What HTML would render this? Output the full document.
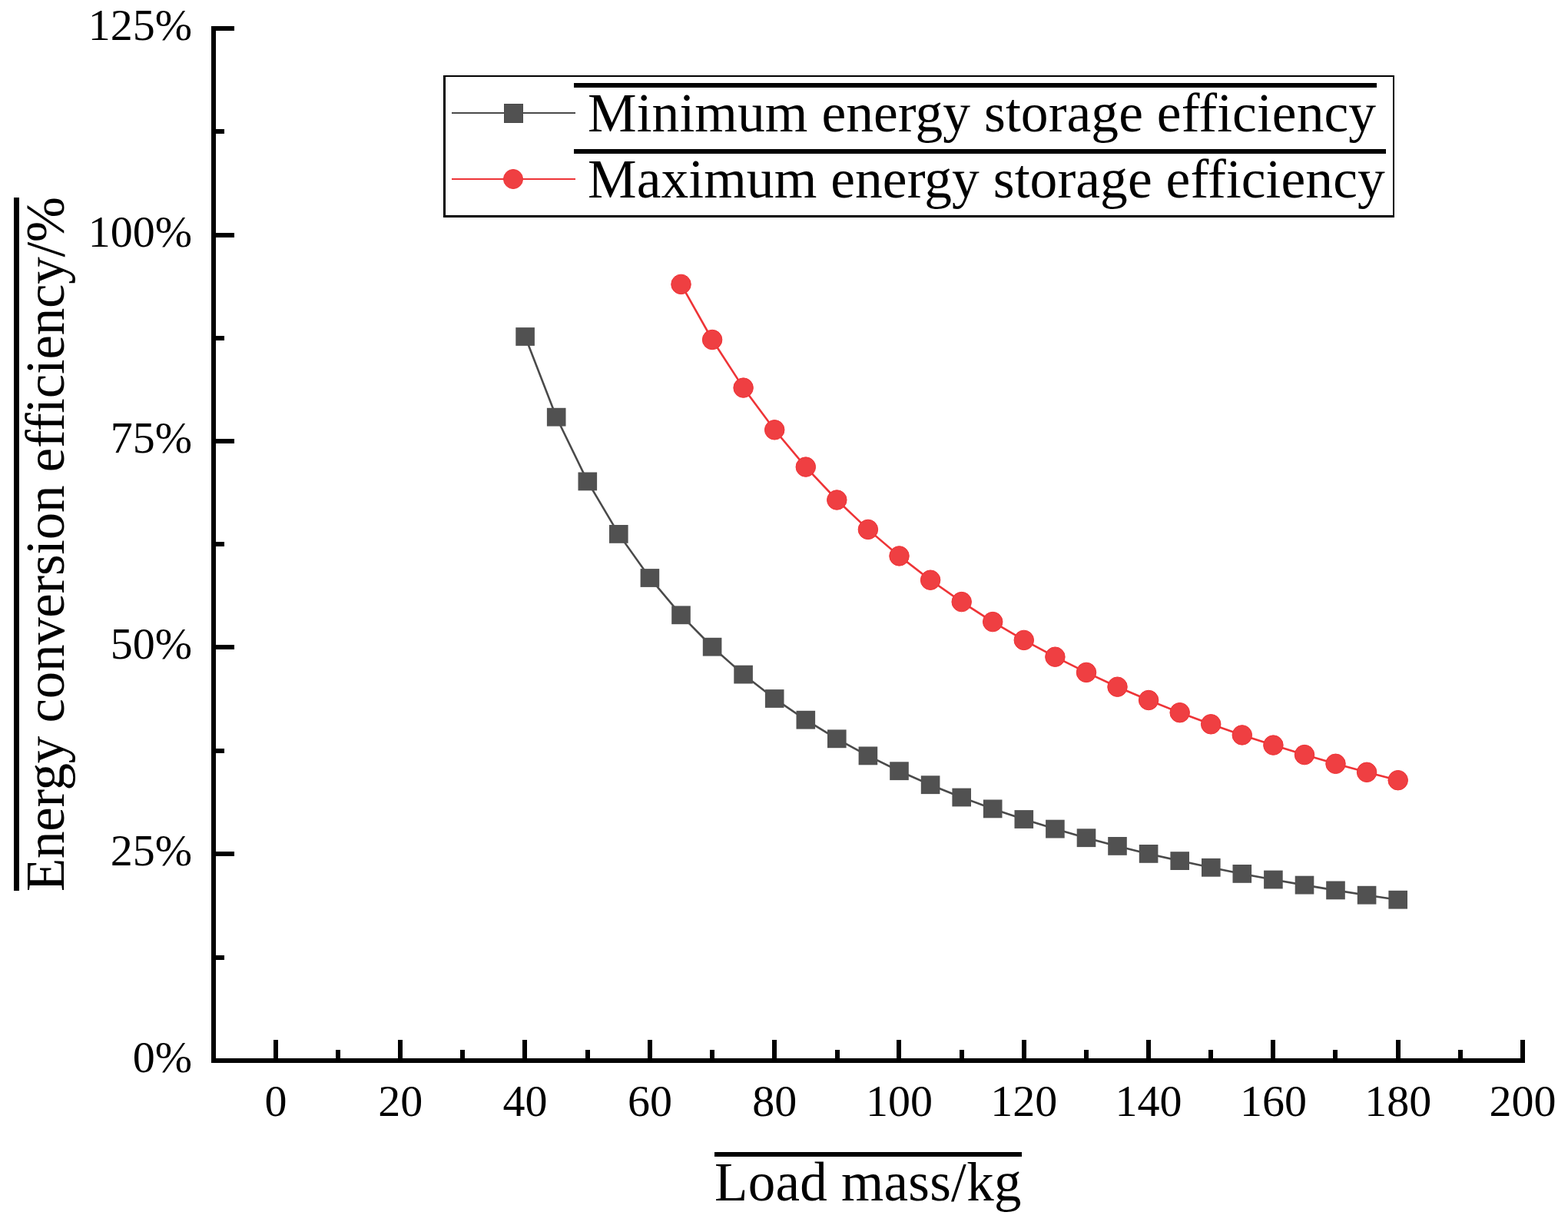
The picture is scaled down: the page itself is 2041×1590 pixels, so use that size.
<!DOCTYPE html><html><head><meta charset="utf-8"><style>html,body{margin:0;padding:0;background:#fff;}svg{display:block}text{font-family:"Liberation Serif","Times New Roman",serif;fill:#000}</style></head><body>
<svg width="2041" height="1590" viewBox="0 0 2041 1590">
<rect width="2041" height="1590" fill="#fff"/>
<rect x="275" y="34" width="6" height="1349" fill="#000"/>
<rect x="275" y="1377" width="1710" height="6" fill="#000"/>
<rect x="281" y="34" width="24" height="6" fill="#000"/>
<rect x="281" y="303" width="24" height="6" fill="#000"/>
<rect x="281" y="571" width="24" height="6" fill="#000"/>
<rect x="281" y="839" width="24" height="6" fill="#000"/>
<rect x="281" y="1108" width="24" height="6" fill="#000"/>
<rect x="281" y="1377" width="24" height="6" fill="#000"/>
<rect x="281" y="168" width="11" height="6" fill="#000"/>
<rect x="281" y="437" width="11" height="6" fill="#000"/>
<rect x="281" y="705" width="11" height="6" fill="#000"/>
<rect x="281" y="974" width="11" height="6" fill="#000"/>
<rect x="281" y="1243" width="11" height="6" fill="#000"/>
<rect x="356" y="1353" width="6" height="24" fill="#000"/>
<rect x="518" y="1353" width="6" height="24" fill="#000"/>
<rect x="680" y="1353" width="6" height="24" fill="#000"/>
<rect x="843" y="1353" width="6" height="24" fill="#000"/>
<rect x="1005" y="1353" width="6" height="24" fill="#000"/>
<rect x="1167" y="1353" width="6" height="24" fill="#000"/>
<rect x="1330" y="1353" width="6" height="24" fill="#000"/>
<rect x="1492" y="1353" width="6" height="24" fill="#000"/>
<rect x="1654" y="1353" width="6" height="24" fill="#000"/>
<rect x="1817" y="1353" width="6" height="24" fill="#000"/>
<rect x="1979" y="1353" width="6" height="24" fill="#000"/>
<rect x="437" y="1366" width="6" height="11" fill="#000"/>
<rect x="599" y="1366" width="6" height="11" fill="#000"/>
<rect x="762" y="1366" width="6" height="11" fill="#000"/>
<rect x="924" y="1366" width="6" height="11" fill="#000"/>
<rect x="1087" y="1366" width="6" height="11" fill="#000"/>
<rect x="1249" y="1366" width="6" height="11" fill="#000"/>
<rect x="1411" y="1366" width="6" height="11" fill="#000"/>
<rect x="1573" y="1366" width="6" height="11" fill="#000"/>
<rect x="1735" y="1366" width="6" height="11" fill="#000"/>
<rect x="1898" y="1366" width="6" height="11" fill="#000"/>
<text x="250" y="52.0" text-anchor="end" font-size="58">125%</text>
<text x="250" y="321.0" text-anchor="end" font-size="58">100%</text>
<text x="250" y="589.0" text-anchor="end" font-size="58">75%</text>
<text x="250" y="857.0" text-anchor="end" font-size="58">50%</text>
<text x="250" y="1126.0" text-anchor="end" font-size="58">25%</text>
<text x="250" y="1395.0" text-anchor="end" font-size="58">0%</text>
<text x="359.0" y="1451.5" text-anchor="middle" font-size="58">0</text>
<text x="521.3" y="1451.5" text-anchor="middle" font-size="58">20</text>
<text x="683.6" y="1451.5" text-anchor="middle" font-size="58">40</text>
<text x="845.9" y="1451.5" text-anchor="middle" font-size="58">60</text>
<text x="1008.2" y="1451.5" text-anchor="middle" font-size="58">80</text>
<text x="1170.5" y="1451.5" text-anchor="middle" font-size="58">100</text>
<text x="1332.8" y="1451.5" text-anchor="middle" font-size="58">120</text>
<text x="1495.1" y="1451.5" text-anchor="middle" font-size="58">140</text>
<text x="1657.4" y="1451.5" text-anchor="middle" font-size="58">160</text>
<text x="1819.7" y="1451.5" text-anchor="middle" font-size="58">180</text>
<text x="1982.0" y="1451.5" text-anchor="middle" font-size="58">200</text>
<rect x="930" y="1499" width="400" height="6" fill="#000"/>
<text x="930" y="1562" font-size="71" textLength="399.4" lengthAdjust="spacing">Load mass/kg</text>
<rect x="18" y="257" width="7" height="902" fill="#000"/>
<text transform="translate(82.7,1160) rotate(-90)" font-size="71" textLength="904" lengthAdjust="spacing">Energy conversion efficiency/%</text>
<polyline points="683.6,438.0 724.2,542.7 764.8,626.4 805.3,694.9 845.9,752.0 886.5,800.3 927.1,841.7 967.6,877.6 1008.2,909.0 1048.8,936.7 1089.3,961.3 1129.9,983.4 1170.5,1003.2 1211.1,1021.2 1251.7,1037.5 1292.2,1052.4 1332.8,1066.0 1373.4,1078.6 1414.0,1090.2 1454.5,1100.9 1495.1,1110.9 1535.7,1120.1 1576.2,1128.8 1616.8,1136.9 1657.4,1144.5 1698.0,1151.6 1738.5,1158.4 1779.1,1164.7 1819.7,1170.7" fill="none" stroke="#4a4a4a" stroke-width="2.6"/>
<polyline points="886.5,369.9 927.1,442.0 967.6,504.6 1008.2,559.3 1048.8,607.6 1089.3,650.5 1129.9,688.9 1170.5,723.4 1211.1,754.7 1251.7,783.1 1292.2,809.1 1332.8,832.9 1373.4,854.7 1414.0,874.9 1454.5,893.7 1495.1,911.0 1535.7,927.2 1576.2,942.3 1616.8,956.4 1657.4,969.6 1698.0,982.1 1738.5,993.8 1779.1,1004.8 1819.7,1015.2" fill="none" stroke="#ee3437" stroke-width="2.6"/>
<rect x="671.3" y="426.1" width="24.6" height="23.8" fill="#515151"/>
<rect x="711.9" y="530.8" width="24.6" height="23.8" fill="#515151"/>
<rect x="752.5" y="614.5" width="24.6" height="23.8" fill="#515151"/>
<rect x="793.0" y="683.0" width="24.6" height="23.8" fill="#515151"/>
<rect x="833.6" y="740.1" width="24.6" height="23.8" fill="#515151"/>
<rect x="874.2" y="788.4" width="24.6" height="23.8" fill="#515151"/>
<rect x="914.8" y="829.8" width="24.6" height="23.8" fill="#515151"/>
<rect x="955.3" y="865.7" width="24.6" height="23.8" fill="#515151"/>
<rect x="995.9" y="897.1" width="24.6" height="23.8" fill="#515151"/>
<rect x="1036.5" y="924.8" width="24.6" height="23.8" fill="#515151"/>
<rect x="1077.0" y="949.4" width="24.6" height="23.8" fill="#515151"/>
<rect x="1117.6" y="971.5" width="24.6" height="23.8" fill="#515151"/>
<rect x="1158.2" y="991.3" width="24.6" height="23.8" fill="#515151"/>
<rect x="1198.8" y="1009.3" width="24.6" height="23.8" fill="#515151"/>
<rect x="1239.4" y="1025.6" width="24.6" height="23.8" fill="#515151"/>
<rect x="1279.9" y="1040.5" width="24.6" height="23.8" fill="#515151"/>
<rect x="1320.5" y="1054.1" width="24.6" height="23.8" fill="#515151"/>
<rect x="1361.1" y="1066.7" width="24.6" height="23.8" fill="#515151"/>
<rect x="1401.7" y="1078.3" width="24.6" height="23.8" fill="#515151"/>
<rect x="1442.2" y="1089.0" width="24.6" height="23.8" fill="#515151"/>
<rect x="1482.8" y="1099.0" width="24.6" height="23.8" fill="#515151"/>
<rect x="1523.4" y="1108.2" width="24.6" height="23.8" fill="#515151"/>
<rect x="1564.0" y="1116.9" width="24.6" height="23.8" fill="#515151"/>
<rect x="1604.5" y="1125.0" width="24.6" height="23.8" fill="#515151"/>
<rect x="1645.1" y="1132.6" width="24.6" height="23.8" fill="#515151"/>
<rect x="1685.7" y="1139.7" width="24.6" height="23.8" fill="#515151"/>
<rect x="1726.2" y="1146.5" width="24.6" height="23.8" fill="#515151"/>
<rect x="1766.8" y="1152.8" width="24.6" height="23.8" fill="#515151"/>
<rect x="1807.4" y="1158.8" width="24.6" height="23.8" fill="#515151"/>
<circle cx="886.5" cy="369.9" r="12.75" fill="#ef3f42" stroke="#ee3134" stroke-width="1"/>
<circle cx="927.1" cy="442.0" r="12.75" fill="#ef3f42" stroke="#ee3134" stroke-width="1"/>
<circle cx="967.6" cy="504.6" r="12.75" fill="#ef3f42" stroke="#ee3134" stroke-width="1"/>
<circle cx="1008.2" cy="559.3" r="12.75" fill="#ef3f42" stroke="#ee3134" stroke-width="1"/>
<circle cx="1048.8" cy="607.6" r="12.75" fill="#ef3f42" stroke="#ee3134" stroke-width="1"/>
<circle cx="1089.3" cy="650.5" r="12.75" fill="#ef3f42" stroke="#ee3134" stroke-width="1"/>
<circle cx="1129.9" cy="688.9" r="12.75" fill="#ef3f42" stroke="#ee3134" stroke-width="1"/>
<circle cx="1170.5" cy="723.4" r="12.75" fill="#ef3f42" stroke="#ee3134" stroke-width="1"/>
<circle cx="1211.1" cy="754.7" r="12.75" fill="#ef3f42" stroke="#ee3134" stroke-width="1"/>
<circle cx="1251.7" cy="783.1" r="12.75" fill="#ef3f42" stroke="#ee3134" stroke-width="1"/>
<circle cx="1292.2" cy="809.1" r="12.75" fill="#ef3f42" stroke="#ee3134" stroke-width="1"/>
<circle cx="1332.8" cy="832.9" r="12.75" fill="#ef3f42" stroke="#ee3134" stroke-width="1"/>
<circle cx="1373.4" cy="854.7" r="12.75" fill="#ef3f42" stroke="#ee3134" stroke-width="1"/>
<circle cx="1414.0" cy="874.9" r="12.75" fill="#ef3f42" stroke="#ee3134" stroke-width="1"/>
<circle cx="1454.5" cy="893.7" r="12.75" fill="#ef3f42" stroke="#ee3134" stroke-width="1"/>
<circle cx="1495.1" cy="911.0" r="12.75" fill="#ef3f42" stroke="#ee3134" stroke-width="1"/>
<circle cx="1535.7" cy="927.2" r="12.75" fill="#ef3f42" stroke="#ee3134" stroke-width="1"/>
<circle cx="1576.2" cy="942.3" r="12.75" fill="#ef3f42" stroke="#ee3134" stroke-width="1"/>
<circle cx="1616.8" cy="956.4" r="12.75" fill="#ef3f42" stroke="#ee3134" stroke-width="1"/>
<circle cx="1657.4" cy="969.6" r="12.75" fill="#ef3f42" stroke="#ee3134" stroke-width="1"/>
<circle cx="1698.0" cy="982.1" r="12.75" fill="#ef3f42" stroke="#ee3134" stroke-width="1"/>
<circle cx="1738.5" cy="993.8" r="12.75" fill="#ef3f42" stroke="#ee3134" stroke-width="1"/>
<circle cx="1779.1" cy="1004.8" r="12.75" fill="#ef3f42" stroke="#ee3134" stroke-width="1"/>
<circle cx="1819.7" cy="1015.2" r="12.75" fill="#ef3f42" stroke="#ee3134" stroke-width="1"/>
<rect x="577" y="98" width="1238" height="2" fill="#000"/>
<rect x="577" y="280" width="1238" height="3" fill="#000"/>
<rect x="577" y="98" width="3" height="185" fill="#000"/>
<rect x="1813" y="98" width="2" height="185" fill="#000"/>
<line x1="588" y1="147" x2="749" y2="147" stroke="#4a4a4a" stroke-width="2"/>
<rect x="656.5" y="135.5" width="24" height="24" fill="#515151" stroke="#4a4a4a" stroke-width="1"/>
<line x1="588" y1="233" x2="749" y2="233" stroke="#ee3437" stroke-width="2"/>
<circle cx="668" cy="233" r="12.5" fill="#ef3f42" stroke="#ee3437" stroke-width="1"/>
<rect x="747" y="108" width="1045" height="6" fill="#000"/>
<rect x="747" y="194" width="1057" height="6" fill="#000"/>
<text x="765" y="171" font-size="71.5" textLength="1026" lengthAdjust="spacing">Minimum energy storage efficiency</text>
<text x="765" y="256.5" font-size="71.5" textLength="1037.7" lengthAdjust="spacing">Maximum energy storage efficiency</text>
</svg></body></html>
